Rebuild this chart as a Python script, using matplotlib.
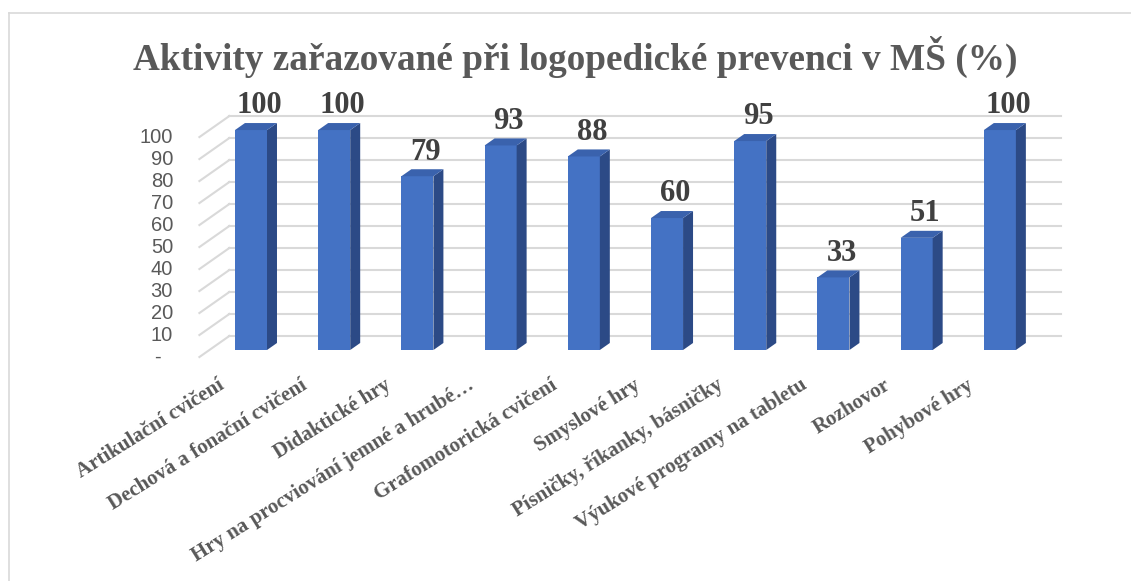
import matplotlib.pyplot as plt
from matplotlib.patches import Polygon
from matplotlib.lines import Line2D

plt.rcParams['font.family'] = ['Liberation Serif', 'DejaVu Serif']

categories = ['Artikulační cvičení', 'Dechová a fonační cvičení', 'Didaktické hry',
              'Hry na procviování jemné a hrubé…', 'Grafomotorická cvičení',
              'Smyslové hry', 'Písničky, říkanky, básničky',
              'Výukové programy na tabletu', 'Rozhovor', 'Pohybové hry']
values = [100, 100, 79, 93, 88, 60, 95, 33, 51, 100]
yticks = [0, 10, 20, 30, 40, 50, 60, 70, 80, 90, 100]
ytick_labels = ['-  ', '10', '20', '30', '40', '50', '60', '70', '80', '90', '100']

title = 'Aktivity zařazované při logopedické prevenci v MŠ (%)'

# oblique depth step (one third of the floor depth) in data units
DX = 0.12
DY = 3.19
W = 0.385

front_c = '#4472c4'
side_c = '#2c4a86'
top_c = '#3a62ad'
grid_c = '#d9d9d9'
text_c = '#595959'

fig = plt.figure(figsize=(11.31, 5.81), dpi=100)
ax = fig.add_axes([0.1763, 0.3855, 0.7622, 0.4148])
ax.set_xlim(-0.5, 9.5 + 3 * DX)
ax.set_ylim(0, 100 + 3 * DY)
ax.axis('off')

n = len(categories)
# walls: side wall diagonals and back wall lines
for v in yticks:
    ax.plot([-0.5, -0.5 + 3 * DX], [v, v + 3 * DY], color=grid_c, lw=1.5,
            clip_on=False, zorder=1)
    ax.plot([-0.5 + 3 * DX, n - 0.5 + 3 * DX], [v + 3 * DY, v + 3 * DY],
            color=grid_c, lw=1.5, clip_on=False, zorder=1)

xs = list(range(n))
ax.bar([x + DX for x in xs], values, width=W, bottom=DY, color=front_c,
       zorder=3, clip_on=False)
for x, v in zip(xs, values):
    r = x + DX + W / 2
    l = x + DX - W / 2
    ax.add_patch(Polygon([(r, DY), (r + DX, 2 * DY), (r + DX, v + 2 * DY), (r, v + DY)],
                         closed=True, facecolor=side_c, edgecolor='none',
                         zorder=3, clip_on=False))
    ax.add_patch(Polygon([(l, v + DY), (r, v + DY), (r + DX, v + 2 * DY), (l + DX, v + 2 * DY)],
                         closed=True, facecolor=top_c, edgecolor='none',
                         zorder=3, clip_on=False))
    ax.annotate(str(v), (x + 1.8 * DX, v + 2 * DY), xytext=(0, 7),
                textcoords='offset points', ha='center', va='baseline',
                fontsize=22, fontweight='bold', color='#404040', clip_on=False)

for v, lab in zip(yticks, ytick_labels):
    ax.annotate(lab, (-0.5, v), xytext=(-19, 0), textcoords='offset points',
                ha='right', va='center', fontsize=14.5, color=text_c,
                family=['Liberation Sans', 'DejaVu Sans'])

for x, lab in zip(xs, categories):
    ax.annotate(lab, (x, 0), xytext=(-17, -13), textcoords='offset points',
                ha='right', va='top', rotation=32, rotation_mode='anchor',
                fontsize=15, fontweight='bold', color=text_c)

fig.text(0.5084, 0.902, title, ha='center', va='center', fontsize=26.8,
         fontweight='bold', color=text_c)

# chart area border (top and left visible)
fig.add_artist(Line2D([8.5 / 1131, 1], [1 - 12.5 / 581] * 2, color='#d9d9d9', lw=1.2))
fig.add_artist(Line2D([8.5 / 1131] * 2, [0, 1 - 12.5 / 581], color='#d9d9d9', lw=1.2))

fig.savefig('out.png', dpi=100)
